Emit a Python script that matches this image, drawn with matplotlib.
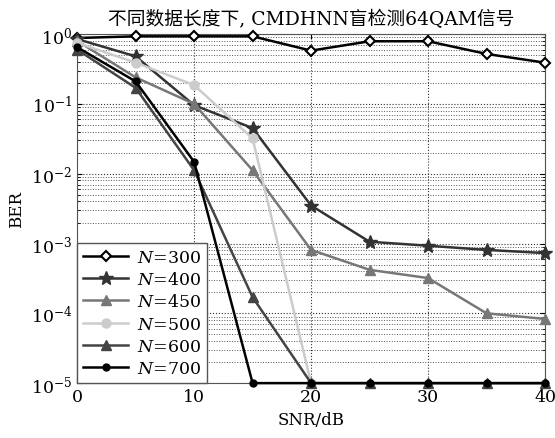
import matplotlib
matplotlib.use("Agg")
import matplotlib.pyplot as plt
from matplotlib.ticker import LogLocator, FixedLocator

snr = [0, 5, 10, 15, 20, 25, 30, 35, 40]
ber_300 = [0.88, 0.93, 0.93, 0.93, 0.58, 0.79, 0.79, 0.52, 0.39]
ber_400 = [0.85, 0.48, 0.096, 0.045, 0.0035, 0.00106, 0.00093, 0.00081, 0.00073]
ber_450 = [0.80, 0.24, 0.10, 0.0112, 0.00081, 0.00042, 0.00032, 0.0001, 0.000083]
ber_500 = [0.75, 0.39, 0.186, 0.032, 1e-5]
ber_600 = [0.60, 0.17, 0.0112, 0.00017, 1e-5, 1e-5, 1e-5, 1e-5, 1e-5]
ber_700 = [0.65, 0.21, 0.0148, 1e-5, 1e-5, 1e-5, 1e-5, 1e-5, 1e-5]
labels = ["300", "400", "450", "500", "600", "700"]

plt.rcParams['font.family'] = ['DejaVu Serif', 'Noto Sans CJK SC']
plt.rcParams['mathtext.fontset'] = 'dejavuserif'

fig = plt.figure(figsize=(5.55, 4.39), dpi=100)
ax = fig.add_axes([0.139, 0.125, 0.843, 0.795])

series = [
    (snr, ber_300, 'D', '#000000', labels[0], 5, 'white'),
    (snr, ber_400, '*', '#333333', labels[1], 10, None),
    (snr, ber_450, '^', '#777777', labels[2], 7.5, None),
    (snr[:5], ber_500, 'o', '#cccccc', labels[3], 6.5, None),
    (snr, ber_600, '^', '#444444', labels[4], 7.5, None),
    (snr, ber_700, 'o', '#000000', labels[5], 5, None),
]
for x, y, m, c, lab, ms, mfc in series:
    kw = dict(marker=m, color=c, lw=1.8, ms=ms, label=r'$N$=' + lab, clip_on=False, zorder=3)
    if mfc:
        kw.update(mfc=mfc, mec=c, mew=1.5)
    ax.plot(x, y, **kw)

ax.set_yscale('log')
ax.set_xlim(0, 40)
ax.set_ylim(1e-5, 1)
ax.xaxis.set_major_locator(FixedLocator([0, 10, 20, 30, 40]))
ax.yaxis.set_major_locator(LogLocator(base=10, numticks=10))
ax.yaxis.set_minor_locator(LogLocator(base=10, subs=range(2, 10), numticks=20))
ax.grid(True, which='major', linestyle=':', color='#333333', lw=0.8)
ax.grid(True, which='minor', axis='y', linestyle=':', color='#555555', lw=0.7)
ax.tick_params(which='both', direction='in', top=True, right=True, labelsize=12.5)
ax.tick_params(which='minor', length=2)
for s in ax.spines.values():
    s.set_color('#555555')
ax.set_axisbelow(True)

ax.set_xlabel('SNR/dB', fontsize=12)
ax.set_ylabel('BER', fontsize=12)
ax.set_title('不同数据长度下, CMDHNN盲检测64QAM信号', fontsize=13.5, pad=7)

leg = ax.legend(loc='lower left', fontsize=12.5, fancybox=False, framealpha=1,
                edgecolor='#555555', handlelength=2.6, borderaxespad=0,
                labelspacing=0.3, handletextpad=0.5, borderpad=0.35)
leg.get_frame().set_linewidth(1.0)
leg.set_zorder(5)

fig.savefig('out.png', dpi=100)
